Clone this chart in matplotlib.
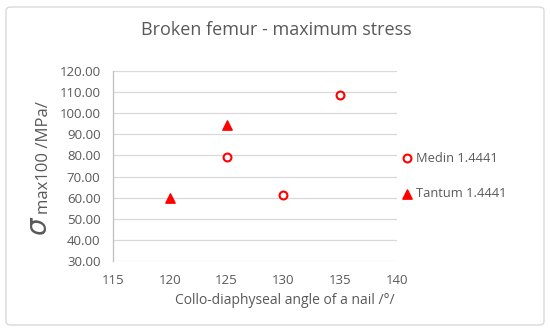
import matplotlib.pyplot as plt
from matplotlib.patches import FancyBboxPatch

# data
medin_angle = [125, 130, 135]
medin_stress = [79.5, 61.5, 108.5]
tantum_angle = [120, 125]
tantum_stress = [60.0, 94.5]

x_ticks = [115, 120, 125, 130, 135, 140]
y_ticks = [30, 40, 50, 60, 70, 80, 90, 100, 110, 120]

text_color = '#595959'
red = '#ff0000'
plt.rcParams['font.family'] = ['Open Sans', 'DejaVu Sans']

fig = plt.figure(figsize=(5.5, 3.33), dpi=100)
W, H = 550, 333

# chart border
fig.patches.append(FancyBboxPatch((6 / W, 8 / H), 538 / W, 318 / H,
                                  boxstyle='round,pad=0,rounding_size=0.01',
                                  transform=fig.transFigure, facecolor='none',
                                  edgecolor='#d9d9d9', linewidth=1.0, zorder=-5))

ax = fig.add_axes([113 / W, 1 - 261 / H, (397 - 113) / W, (261 - 71) / H])
ax.set_facecolor('none')

ax.scatter(medin_angle, medin_stress, marker='o', s=32, facecolors='white',
           edgecolors=red, linewidths=1.5, zorder=3, label='Medin 1.4441')
ax.scatter(tantum_angle, tantum_stress, marker='^', s=45, color=red,
           zorder=3, label='Tantum 1.4441')

ax.set_xlim(115, 140)
ax.set_ylim(30, 120)
ax.set_xticks(x_ticks)
ax.set_yticks(y_ticks)
ax.set_xticklabels([str(v) for v in x_ticks])
ax.set_yticklabels([f'{v:.2f}' for v in y_ticks])
ax.tick_params(length=0, colors=text_color, labelsize=9.5)
ax.tick_params(axis='y', pad=9)
ax.tick_params(axis='x', pad=9)
ax.yaxis.grid(True, color='#d9d9d9', linewidth=0.9)
ax.set_axisbelow(True)
for side in ['top', 'right', 'bottom']:
    ax.spines[side].set_visible(False)
ax.spines['left'].set_color('#bfbfbf')
ax.spines['left'].set_linewidth(0.9)

fig.text(276 / W, 1 - 30 / H, 'Broken femur - maximum stress', ha='center',
         va='center', fontsize=13, color=text_color)
fig.text(285 / W, 1 - 300 / H, 'Collo-diaphyseal angle of a nail /°/',
         ha='center', va='center', fontsize=10, color=text_color)

# y axis title: big sigma plus subscript-like text
fig.text(40 / W, 1 - 226 / H, r'$\sigma$', rotation=90, ha='center',
         va='center', fontsize=20, color=text_color)
fig.text(44 / W, 1 - 158 / H, 'max100 /MPa/', rotation=90, ha='center',
         va='center', fontsize=12, color=text_color)

ax.legend(loc='center left', bbox_to_anchor=(401 / W, 1 - 176 / H),
          bbox_transform=fig.transFigure, frameon=False, borderaxespad=0,
          borderpad=0, fontsize=9.3, labelcolor=text_color, handletextpad=0.2,
          labelspacing=1.75, handlelength=1.0)

fig.savefig('out.png', dpi=100)
